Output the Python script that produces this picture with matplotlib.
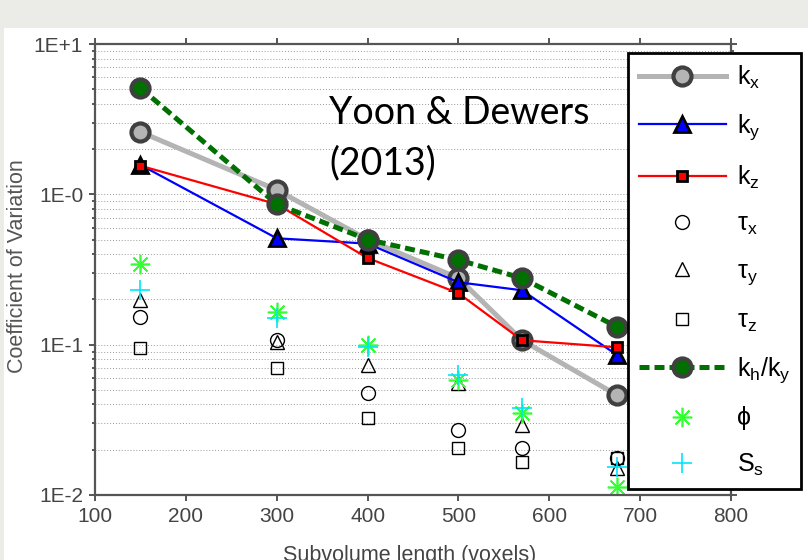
import numpy as np
import matplotlib
matplotlib.use('Agg')
import matplotlib.pyplot as plt
from matplotlib.patches import Rectangle
from matplotlib.ticker import FixedLocator, LogLocator, NullFormatter

# values (log y axis)
subvol = [150, 300, 400, 500, 570, 675]
kx = [2.60, 1.07, 0.50, 0.277, 0.107, 0.046]
ky = [1.57, 0.51, 0.47, 0.26, 0.23, 0.085]
kz = [1.55, 0.86, 0.377, 0.22, 0.107, 0.096]
tau_x = [0.153, 0.107, 0.048, 0.027, 0.0205, 0.0176]
tau_y = [0.198, 0.104, 0.073, 0.056, 0.029, 0.0151]
tau_z = [0.095, 0.070, 0.0325, 0.0205, 0.0166, 0.0176]
kh_ky = [5.1, 0.86, 0.50, 0.366, 0.277, 0.131]
phi = [0.344, 0.165, 0.099, 0.058, 0.035, 0.0113]
Ss = [0.231, 0.150, 0.097, 0.063, 0.038, 0.0153]

xticks = [100, 200, 300, 400, 500, 600, 700, 800]
yticks = [1e-2, 1e-1, 1e0, 1e1]
ytick_labels = ['1E-2', '1E-1', '1E-0', '1E+1']

plt.rcParams['mathtext.fontset'] = 'custom'
plt.rcParams['mathtext.rm'] = 'Liberation Sans'
plt.rcParams['mathtext.it'] = 'Liberation Sans:italic'
narrow = ['Liberation Sans Narrow', 'Liberation Sans', 'DejaVu Sans']
axcol = '#555555'

W, H = 808, 560
fig = plt.figure(figsize=(W / 100, H / 100), dpi=100, facecolor='#ebebe8')
fig.patches.append(Rectangle((4 / W, 0), 1, 1 - 28 / H, transform=fig.transFigure,
                             facecolor='white', edgecolor='none', zorder=-10))

ax = fig.add_axes([95 / W, 1 - 495 / H, 636 / W, 451 / H])
ax.set_yscale('log')
ax.set_xlim(100, 800)
ax.set_ylim(1e-2, 1e1)

ax.plot(subvol, kx, '-o', color='#b4b4b4', lw=3.6, ms=13, mfc='#b4b4b4',
        mec='#404040', mew=3, label=r'$\mathregular{k_x}$')
ax.plot(subvol, ky, '-^', color='#0000ff', lw=1.6, ms=11, mfc='#0000ff',
        mec='black', mew=2, label=r'$\mathregular{k_y}$')
ax.plot(subvol, kz, '-s', color='#ff0000', lw=1.6, ms=7.5, mfc='#ff0000',
        mec='black', mew=2, label=r'$\mathregular{k_z}$')
ax.plot(subvol, tau_x, 'o', ls='none', ms=10, mfc='none', mec='black', mew=1,
        label=r'$\mathregular{τ_x}$')
ax.plot(subvol, tau_y, '^', ls='none', ms=10, mfc='none', mec='black', mew=1,
        label=r'$\mathregular{τ_y}$')
ax.plot(subvol, tau_z, 's', ls='none', ms=9, mfc='none', mec='black', mew=1,
        label=r'$\mathregular{τ_z}$')
ax.plot(subvol, kh_ky, 'o', color='#007000', ls=(0, (2, 1)), lw=3.6, ms=13,
        mfc='#007000', mec='#404040', mew=3, label=r'$\mathregular{k_h/k_y}$')
ax.plot(subvol, phi, ls='none', marker=(8, 2, 0), ms=14, mec='#33ff33', mew=1.2,
        label='ϕ')
ax.plot(subvol, Ss, '+', ls='none', ms=15, mec='#00e5ff', mew=1.2,
        label=r'$\mathregular{S_s}$')

ax.xaxis.set_major_locator(FixedLocator(xticks))
ax.set_xticklabels([str(v) for v in xticks])
ax.yaxis.set_major_locator(FixedLocator(yticks))
ax.set_yticklabels(ytick_labels)
ax.yaxis.set_minor_locator(LogLocator(base=10, subs=np.arange(2, 10)))
ax.yaxis.set_minor_formatter(NullFormatter())
ax.xaxis.set_minor_locator(FixedLocator([]))

ax.yaxis.grid(True, which='both', ls=(0, (1, 2)), color='#9a9a9a', lw=0.7)
ax.set_axisbelow(True)
for s in ax.spines.values():
    s.set_color(axcol)
    s.set_linewidth(1.6)
ax.tick_params(which='both', direction='out', top=True, right=True,
               color=axcol, width=1.4, labelcolor='#444444', labelsize=15)
ax.tick_params(which='major', length=4.5, pad=4)
ax.tick_params(which='minor', length=2.2)
for lab in ax.get_xticklabels() + ax.get_yticklabels():
    lab.set_family(narrow)

fig.text(18 / W, 1 - 266 / H, 'Coefficient of Variation', rotation=90,
         ha='center', va='center', fontsize=15.5, color='#555555',
         family=['Liberation Sans', 'DejaVu Sans'])
fig.text(410 / W, 1 - 555 / H, 'Subvolume length (voxels)', ha='center',
         va='center', fontsize=15.5, color='#444444', family=narrow)

fig.text(329 / W, 1 - 95 / H, 'Yoon & Dewers\n(2013)', ha='left', va='top',
         fontsize=27, color='black', linespacing=1.5,
         family=['Lato', 'Open Sans', 'DejaVu Sans'])

leg = ax.legend(loc='upper left', bbox_to_anchor=(628 / W, 1 - 53 / H),
                bbox_transform=fig.transFigure, frameon=True, fancybox=False,
                framealpha=1, edgecolor='black',
                prop={'family': ['Liberation Sans', 'DejaVu Sans'], 'size': 18},
                handlelength=3.5, handletextpad=0.45, borderpad=0.42,
                borderaxespad=0, labelspacing=0.86, numpoints=1)
leg.get_frame().set_linewidth(2)
leg.set_zorder(20)

fig.savefig('out.png', dpi=100, facecolor=fig.get_facecolor())
